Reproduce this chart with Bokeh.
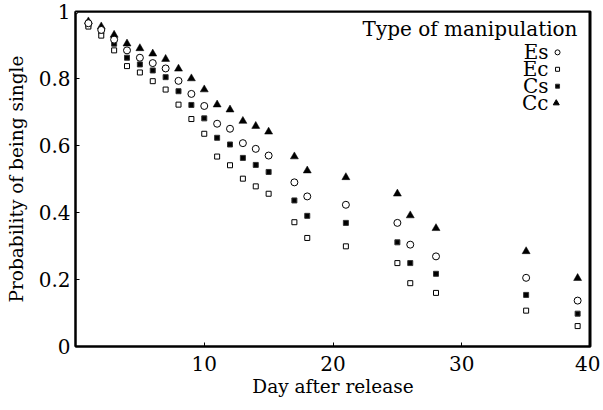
from bokeh.plotting import figure
from bokeh.models import Range1d, FixedTicker
from bokeh.core.properties import value
from bokeh.embed import file_html
from bokeh.resources import INLINE

# ---- data ----
days = [1, 2, 3, 4, 5, 6, 7, 8, 9, 10, 11, 12, 13, 14, 15, 17, 18, 21, 25, 26, 28, 35, 39]
es = [0.965, 0.945, 0.916, 0.884, 0.862, 0.846, 0.830, 0.793, 0.754, 0.718, 0.665, 0.650,
      0.607, 0.590, 0.570, 0.490, 0.448, 0.423, 0.369, 0.304, 0.269, 0.205, 0.137]
ec = [0.955, 0.928, 0.884, 0.837, 0.818, 0.792, 0.767, 0.722, 0.679, 0.635, 0.567, 0.541,
      0.501, 0.478, 0.456, 0.371, 0.324, 0.299, 0.249, 0.189, 0.160, 0.107, 0.061]
cs = [0.960, 0.940, 0.904, 0.862, 0.842, 0.824, 0.804, 0.762, 0.721, 0.681, 0.623, 0.603,
      0.563, 0.542, 0.521, 0.436, 0.390, 0.369, 0.311, 0.249, 0.217, 0.154, 0.098]
cc = [0.970, 0.955, 0.930, 0.904, 0.890, 0.874, 0.858, 0.829, 0.800, 0.767, 0.722, 0.707,
      0.673, 0.658, 0.641, 0.567, 0.525, 0.505, 0.456, 0.391, 0.353, 0.284, 0.204]
start_day = [0]
start_prob = [1.0]

series_names = ["Es", "Ec", "Cs", "Cc"]
legend_title = "Type of manipulation"
x_ticks = [10, 20, 30, 40]
y_ticks = [0, 0.2, 0.4, 0.6, 0.8, 1]
x_lo, x_hi = 0, 40
y_lo, y_hi = 0, 1

FONT = "DejaVu Serif"

p = figure(output_backend="svg", toolbar_location=None,
           frame_width=515, frame_height=335,
           min_border_left=75, min_border_right=10, min_border_top=11, min_border_bottom=60,
           x_range=Range1d(x_lo, x_hi), y_range=Range1d(y_lo, y_hi))
p.grid.visible = False
p.outline_line_color = "black"
p.outline_line_width = 2
p.outline_line_alpha = 1

for ax in (p.xaxis[0], p.yaxis[0]):
    ax.axis_line_color = "black"
    ax.axis_line_width = 2
    ax.major_tick_in = 4
    ax.major_tick_out = 0
    ax.minor_tick_line_color = None
    ax.major_tick_line_color = "black"
    ax.major_tick_line_width = 1
    ax.major_label_text_font = FONT
    ax.major_label_text_font_size = "20px"
    ax.major_label_text_color = "black"
    ax.axis_label_text_font = FONT
    ax.axis_label_text_font_size = "18.5px"
    ax.axis_label_text_font_style = "normal"
    ax.axis_label_text_color = "black"

p.xaxis.ticker = FixedTicker(ticks=x_ticks)
p.yaxis.ticker = FixedTicker(ticks=y_ticks)
p.yaxis.major_label_overrides = {0: "0", 1: "1"}
p.xaxis.axis_label = "Day after release"
p.yaxis.axis_label = "Probability of being single"
p.xaxis.major_label_standoff = 9
p.xaxis.axis_label_standoff = 2
p.yaxis.major_label_standoff = 5
p.yaxis.axis_label_standoff = 9

# top and right edges of the frame box (reinforce the outline from inside)
p.segment(x0=[x_lo], y0=[y_hi], x1=[x_hi], y1=[y_hi], line_color="black", line_width=2)
p.segment(x0=[x_hi], y0=[y_lo], x1=[x_hi], y1=[y_hi], line_color="black", line_width=4)

# ---- data marks ----
p.scatter(days, cc, marker="triangle", size=8, fill_color="black", line_color="black", line_width=0.5)
p.scatter(days, cs, marker="square", size=5, fill_color="black", line_color="#333333", line_width=1)
p.scatter(days, ec, marker="square", size=5, fill_color="white", line_color="black", line_width=1)
p.scatter(days, es, marker="circle", size=7, fill_color="white", line_color="black", line_width=1)
p.scatter(start_day, start_prob, marker="circle", size=5, fill_color="white", line_color="black", line_width=1)

# ---- legend (label left, marker right) ----
leg_title_x, leg_title_y = 38.99, 0.949
leg_label_x, leg_marker_x = 36.74, 37.44
leg_top_y, leg_step = 0.878, 0.0505

p.text(x=[leg_title_x], y=[leg_title_y], text=[legend_title], text_font=value(FONT),
       text_font_size="20px", text_align="right", text_baseline="middle", text_color="black")
ly = [leg_top_y - i * leg_step for i in range(len(series_names))]
p.text(x=[leg_label_x] * len(series_names), y=ly, text=series_names, text_font=value(FONT),
       text_font_size="20px", text_align="right", text_baseline="middle", text_color="black")
p.scatter([leg_marker_x], [ly[0]], marker="circle", size=5, fill_color="white", line_color="black")
p.scatter([leg_marker_x], [ly[1]], marker="square", size=4, fill_color="white", line_color="black")
p.scatter([leg_marker_x], [ly[2]], marker="square", size=4, fill_color="black", line_color="#333333")
p.scatter([leg_marker_x - 0.1], [ly[3]], marker="triangle", size=6, fill_color="black", line_color="black")

open("out.html", "w").write(file_html(p, INLINE))
